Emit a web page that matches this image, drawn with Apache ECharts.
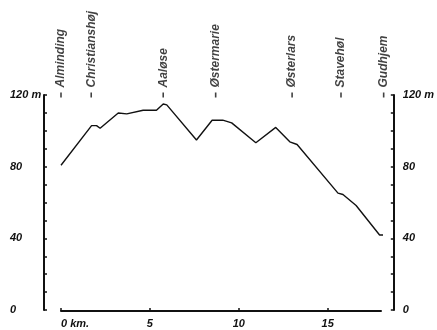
<!DOCTYPE html>
<html>
<head>
<meta charset="utf-8">
<script src="https://cdn.jsdelivr.net/npm/echarts@6/dist/echarts.min.js"></script>
<style>html,body{margin:0;padding:0;background:#fff}#c{width:437px;height:330px}</style>
</head>
<body>
<div id="c"></div>
<script>
// Elevation profile (km, metres)
const profileKm   = [0, 1.72, 2.0, 2.2, 3.22, 3.7, 4.62, 5.37, 5.75, 5.95, 7.62, 8.5, 9.1, 9.6, 10.96, 12.08, 12.87, 13.28, 15.58, 15.86, 16.6, 17.92, 18.4];
const profileElev = [81, 103, 103, 101.5, 110, 109.5, 111.5, 111.5, 115, 114.5, 95, 106, 106, 104.5, 93.5, 102, 94, 92.5, 65.5, 64.7, 58.6, 42.2, 42.2];
// Places along the route
const placeNames = ['Alminding', 'Christianshøj', 'Aaløse', 'Østermarie', 'Østerlars', 'Stavehøl', 'Gudhjem'];
const placeKm    = [0, 1.7, 5.75, 8.7, 13.0, 15.75, 18.15];
// Axis ticks
const xTicks = [0, 5, 10, 15];
const yTicks = [0, 40, 80, 120];

const font = 'Liberation Sans';
const ink = '#111';
const chart = echarts.init(document.getElementById('c'), null, {renderer: 'canvas'});

const yAxisCommon = {
  type: 'value', gridIndex: 0, min: 0, max: 120, interval: 40,
  axisLine: {show: true, lineStyle: {color: ink, width: 2}},
  axisTick: {show: true, inside: true, length: 3, lineStyle: {color: ink, width: 1.5}},
  minorTick: {show: true, splitNumber: 4, length: 3, lineStyle: {color: ink, width: 1.5}},
  splitLine: {show: false},
  axisLabel: {
    fontFamily: font, fontStyle: 'italic', fontWeight: 'bold', fontSize: 11, color: ink,
    formatter: v => yTicks.includes(v) ? (v === 120 ? '120 m' : String(v)) : ''
  }
};

chart.setOption({
  animation: false,
  backgroundColor: '#fff',
  grid: [
    {left: 44, right: 39, top: 95, bottom: 20},
    {left: 61, right: 56, top: 95, bottom: 19}
  ],
  xAxis: [
    {type: 'value', gridIndex: 0, min: 0, max: 1, show: false},
    {
      type: 'value', gridIndex: 1, min: 0, max: 18, interval: 5,
      axisLine: {show: true, lineStyle: {color: ink, width: 2}},
      axisTick: {show: true, inside: true, length: 3, lineStyle: {color: ink, width: 1.5}},
      splitLine: {show: false},
      axisLabel: {
        fontFamily: font, fontStyle: 'italic', fontWeight: 'bold', fontSize: 11, color: ink,
        margin: 7, alignMinLabel: 'left', showMaxLabel: false,
        formatter: v => xTicks.includes(v) ? (v === 0 ? '0 km.' : String(v)) : ''
      }
    }
  ],
  yAxis: [
    Object.assign({}, yAxisCommon, {position: 'left', axisLabel: Object.assign({}, yAxisCommon.axisLabel, {align: 'left', margin: 34})}),
    Object.assign({}, yAxisCommon, {position: 'right', axisLabel: Object.assign({}, yAxisCommon.axisLabel, {align: 'left', margin: 9})}),
    {type: 'value', gridIndex: 1, min: 0, max: 120, show: false}
  ],
  series: [
    {
      type: 'line', xAxisIndex: 1, yAxisIndex: 2,
      data: profileKm.map((k, i) => [k, profileElev[i]]),
      showSymbol: false, clip: false,
      lineStyle: {color: ink, width: 1.4}
    },
    {
      type: 'scatter', xAxisIndex: 1, yAxisIndex: 2, clip: false,
      data: placeKm.map((k, i) => ({value: [k, 120], name: placeNames[i]})),
      symbol: 'rect', symbolSize: [1.6, 5],
      itemStyle: {color: ink},
      label: {
        show: true, position: 'top', distance: 5, rotate: 90,
        align: 'left', verticalAlign: 'middle',
        formatter: p => p.name,
        fontFamily: font, fontStyle: 'italic', fontWeight: 'bold', fontSize: 12, color: ink
      }
    }
  ]
});
</script>
</body>
</html>
